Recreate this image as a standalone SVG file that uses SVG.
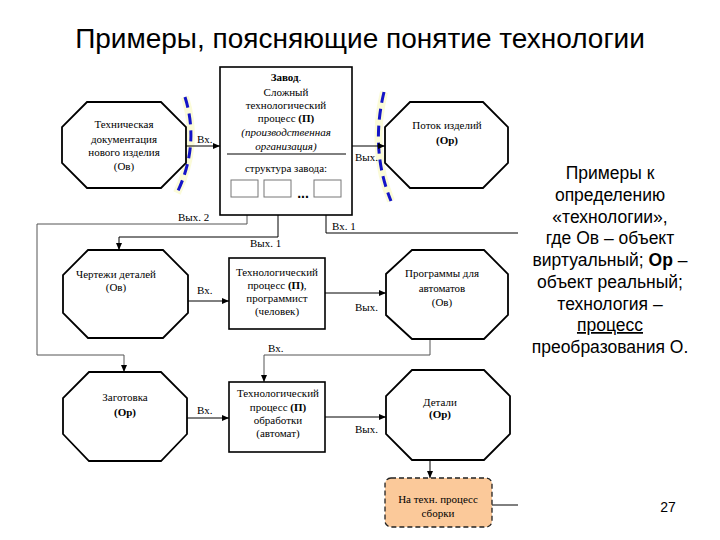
<svg xmlns="http://www.w3.org/2000/svg" width="720" height="540" viewBox="0 0 720 540">
<style>
.oct{fill:#fff;stroke:#000;stroke-width:1.8}
.box{fill:#fff;stroke:#000;stroke-width:1.6}
.sm{fill:#fff;stroke:#777;stroke-width:1}
.t{font-family:"Liberation Serif","Times New Roman",serif;font-size:11px;fill:#000;text-anchor:middle}
.lb{font-family:"Liberation Serif","Times New Roman",serif;font-size:11px;fill:#000}
.b{font-weight:bold}
.i{font-style:italic}
.ln{fill:none;stroke:#000;stroke-width:1}
.lg{fill:none;stroke:#555;stroke-width:1}
.arc{fill:none;stroke:#1414c8;stroke-width:3;stroke-dasharray:11 6}
.halo{fill:none;stroke:#fbfbd8;stroke-width:8}
.rt{font-family:"Liberation Sans",Arial,sans-serif;font-size:17.5px;fill:#000;text-anchor:middle}
</style>
<defs>
<marker id="ah" markerWidth="8" markerHeight="8" refX="7" refY="4" orient="auto" markerUnits="userSpaceOnUse">
<path d="M0,1 L7,4 L0,7 Z" fill="#000"/>
</marker>
</defs>
<rect width="720" height="540" fill="#fff"/>
<text x="360" y="48" font-family="'Liberation Sans',Arial,sans-serif" font-size="28" text-anchor="middle" fill="#000">Примеры, поясняющие понятие технологии</text>

<g id="arcs">
<path class="halo" d="M185,97 Q200,145 177,193"/>
<path class="arc" d="M185,97 Q200,145 177,193"/>
<path class="halo" d="M384,92 Q370,150 391,201"/>
<path class="arc" d="M384,92 Q370,150 391,201"/>
</g>

<g id="connectors">
<line class="ln" x1="186" y1="146" x2="220" y2="146" marker-end="url(#ah)"/>
<line class="ln" x1="352" y1="146" x2="385" y2="146" marker-end="url(#ah)"/>
<path class="lg" d="M247,197 V224 H37 V355 H124 V372" marker-end="url(#ah)"/>
<path class="ln" d="M278,197 V237 H119 V250" marker-end="url(#ah)"/>
<path class="ln" d="M518,233 H326 V197" marker-end="url(#ah)"/>
<line class="ln" x1="188" y1="301" x2="229" y2="301" marker-end="url(#ah)"/>
<line class="ln" x1="325" y1="293" x2="386" y2="293" marker-end="url(#ah)"/>
<path class="lg" d="M430,339 V355 H264 V382" marker-end="url(#ah)"/>
<line class="ln" x1="187" y1="418" x2="229" y2="418" marker-end="url(#ah)"/>
<line class="ln" x1="325" y1="417" x2="386" y2="417" marker-end="url(#ah)"/>
<line class="ln" x1="430" y1="460" x2="430" y2="478" marker-end="url(#ah)"/>
<line class="ln" x1="492" y1="505" x2="518" y2="505"/>
<text class="lb" x="197" y="143">Вх.</text>
<text class="lb" x="355" y="161">Вых.</text>
<text class="lb" x="178" y="221">Вых. 2</text>
<text class="lb" x="332" y="230">Вх. 1</text>
<text class="lb" x="250" y="247">Вых. 1</text>
<text class="lb" x="197" y="294">Вх.</text>
<text class="lb" x="355" y="311">Вых.</text>
<text class="lb" x="268" y="352">Вх.</text>
<text class="lb" x="197" y="414">Вх.</text>
<text class="lb" x="355" y="433">Вых.</text>
</g>

<g id="doc">
<polygon class="oct" points="87,102 161,102 186,127 186,163 161,188 87,188 62,163 62,127"/>
<text class="t" x="124" y="128">Техническая</text>
<text class="t" x="124" y="143">документация</text>
<text class="t" x="124" y="156">нового изделия</text>
<text class="t" x="124" y="170">(Ов)</text>
</g>

<g id="factory">
<rect class="box" x="220" y="67" width="132" height="148"/>
<text class="t" x="286" y="81"><tspan class="b">Завод</tspan>.</text>
<text class="t" x="286" y="96">Сложный</text>
<text class="t" x="286" y="109">технологический</text>
<text class="t" x="286" y="122">процесс <tspan class="b">(П)</tspan></text>
<text class="t i" x="286" y="136">(производственная</text>
<text class="t i" x="286" y="150">организация)</text>
<line x1="227" y1="154" x2="346" y2="154" stroke="#000" stroke-width="1"/>
<text class="t" x="286" y="172">структура завода:</text>
<rect class="sm" x="231" y="180" width="27" height="17"/>
<rect class="sm" x="264" y="180" width="27" height="17"/>
<rect class="sm" x="314" y="180" width="27" height="17"/>
<text x="303" y="198" font-family="'Liberation Sans',Arial,sans-serif" font-size="14" font-weight="bold" text-anchor="middle">...</text>
</g>

<g id="flow">
<polygon class="oct" points="410,102 483,102 508,127 508,163 483,188 410,188 385,163 385,127"/>
<text class="t" x="447" y="129">Поток изделий</text>
<text class="t b" x="447" y="144">(Ор)</text>
</g>

<g id="drawings">
<polygon class="oct" points="88,250 163,250 188,275 188,313 163,338 88,338 63,313 63,275"/>
<text class="t" x="116" y="278">Чертежи деталей</text>
<text class="t" x="116" y="291">(Ов)</text>
</g>

<g id="proc2">
<rect class="box" x="229" y="258" width="96" height="71"/>
<text class="t" x="277" y="276">Технологический</text>
<text class="t" x="277" y="289">процесс <tspan class="b">(П)</tspan>,</text>
<text class="t" x="277" y="302">программист</text>
<text class="t" x="277" y="315">(человек)</text>
</g>

<g id="programs">
<polygon class="oct" points="412,250 484,250 508,274 508,315 484,339 412,339 386,315 386,274"/>
<text class="t" x="442" y="277">Программы для</text>
<text class="t" x="442" y="292">автоматов</text>
<text class="t" x="442" y="306">(Ов)</text>
</g>

<g id="blank">
<polygon class="oct" points="89,372 161,372 187,398 187,434 161,461 89,461 63,434 63,398"/>
<text class="t" x="125" y="401">Заготовка</text>
<text class="t b" x="125" y="416">(Ор)</text>
</g>

<g id="proc3">
<rect class="box" x="229" y="382" width="96" height="70"/>
<text class="t" x="278" y="397">Технологический</text>
<text class="t" x="278" y="411">процесс <tspan class="b">(П)</tspan></text>
<text class="t" x="278" y="424">обработки</text>
<text class="t" x="278" y="437">(автомат)</text>
</g>

<g id="parts">
<polygon class="oct" points="412,370 484,370 510,396 510,434 484,460 412,460 386,434 386,396"/>
<text class="t" x="440" y="406">Детали</text>
<text class="t b" x="440" y="418">(Ор)</text>
</g>

<g id="assembly">
<rect x="385" y="478" width="107" height="49" rx="6" fill="#fbc99a" stroke="#222" stroke-width="1.3" stroke-dasharray="5 3"/>
<text class="t" x="438" y="503">На техн. процесс</text>
<text class="t" x="438" y="517">сборки</text>
</g>

<g id="note">
<text class="rt" x="610" y="179">Примеры к</text>
<text class="rt" x="610" y="201">определению</text>
<text class="rt" x="610" y="223">«технологии»,</text>
<text class="rt" x="610" y="244">где Ов – объект</text>
<text class="rt" x="610" y="266">виртуальный; <tspan font-weight="bold">Ор</tspan> –</text>
<text class="rt" x="610" y="288">объект реальный;</text>
<text class="rt" x="610" y="310">технология –</text>
<text class="rt" x="610" y="331" text-decoration="underline">процесс</text>
<text class="rt" x="610" y="353">преобразования О.</text>
<text x="668" y="512" font-family="'Liberation Sans',Arial,sans-serif" font-size="14" text-anchor="middle" fill="#000">27</text>
</g>
</svg>
